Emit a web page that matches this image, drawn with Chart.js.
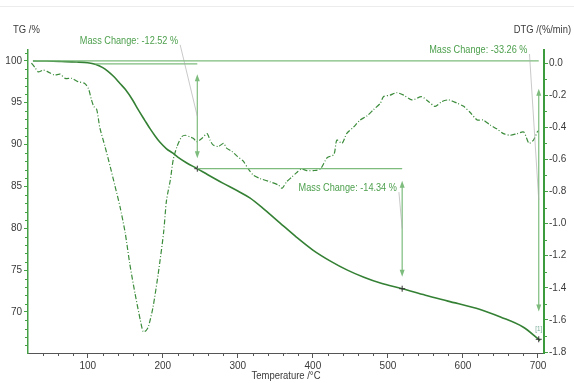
<!DOCTYPE html>
<html>
<head>
<meta charset="utf-8">
<script src="https://cdn.jsdelivr.net/npm/chart.js@4.4.1/dist/chart.umd.min.js"></script>
<style>
  html, body { margin: 0; padding: 0; background: #fff; }
  #wrap { position: relative; width: 574px; height: 383px; }
</style>
</head>
<body>
<div id="wrap"><canvas id="c" width="574" height="383"></canvas></div>
<script>
// TG curve: temperature (°C) and residual mass (%)
const tgTemp = [27, 45, 65, 85, 100, 110, 120, 127, 135, 143, 150, 160, 167, 176, 183, 190, 196, 205, 213, 220, 232, 246,
  260, 280, 300, 316, 336, 356, 378, 400, 424, 446, 468, 490, 519, 550, 580, 623, 650, 680, 701, 703];
const tgMass = [100.00, 99.98, 99.93, 99.87, 99.78, 99.60, 99.20, 98.75, 98.10, 97.30, 96.60, 95.30, 94.20, 92.90, 91.90, 91.00, 90.30, 89.50, 89.00, 88.50, 87.80, 87.12,
  86.40, 85.40, 84.45, 83.63, 82.20, 80.65, 78.95, 77.40, 76.05, 75.00, 74.15, 73.45, 72.78, 72.00, 71.30, 70.30, 69.40, 68.20, 66.74, 66.60];

// DTG curve: temperature (°C) and mass-loss rate (%/min)
const dtgTemp = [25, 30, 34, 41, 47, 56, 63, 70, 79, 87, 96, 101, 105, 108, 112, 116, 123, 130, 136, 143, 150, 156, 163, 170, 174, 178, 181, 187, 194, 201, 205, 210,
  214, 219, 225, 230, 236, 241, 245, 252, 259, 263, 267, 274, 281, 285, 292, 299, 307, 314, 321, 330, 343, 354, 359, 365, 372, 379, 385, 392, 401, 410,
  419, 428, 432, 439, 445, 454, 463, 472, 481, 490, 494, 503, 512, 521, 532, 545, 554, 563, 572, 581, 592, 601, 610, 619, 627, 636, 645, 654, 663, 672,
  681, 688, 694, 699, 701];
const dtgRate = [0.00, -0.03, -0.055, -0.044, -0.055, -0.075, -0.069, -0.096, -0.096, -0.116, -0.127, -0.16, -0.23, -0.27, -0.29, -0.40, -0.52, -0.646, -0.76, -0.895, -1.06, -1.25, -1.435, -1.60, -1.675, -1.665, -1.64, -1.52, -1.31, -1.06, -0.854, -0.73,
  -0.60, -0.52, -0.46, -0.45, -0.46, -0.47, -0.49, -0.47, -0.44, -0.48, -0.51, -0.52, -0.50, -0.53, -0.55, -0.58, -0.61, -0.66, -0.70, -0.72, -0.74, -0.76, -0.78, -0.74, -0.71, -0.68, -0.66, -0.67, -0.67, -0.66,
  -0.59, -0.57, -0.48, -0.50, -0.44, -0.40, -0.355, -0.33, -0.29, -0.25, -0.21, -0.20, -0.185, -0.20, -0.23, -0.21, -0.24, -0.27, -0.24, -0.23, -0.25, -0.27, -0.31, -0.355, -0.355, -0.386, -0.41, -0.44, -0.45, -0.44,
  -0.43, -0.50, -0.48, -0.43, -0.42];

// Axis tick values
const tempTicks = [100, 200, 300, 400, 500, 600, 700];
const massTicks = [70, 75, 80, 85, 90, 95, 100];
const rateTicks = [0.0, -0.2, -0.4, -0.6, -0.8, -1.0, -1.2, -1.4, -1.6, -1.8];

// Mass-change evaluations: start / end temperature, start level, stated change
const stepStartTemp = [110, 246, 27];
const stepEndTemp = [246, 519, 701];
const stepStartMass = [99.64, 87.12, 100.00];
const stepChange = [-12.52, -14.34, -33.26];

const FONT = '"Liberation Sans", Arial, sans-serif';
const TEXT = '#3a3a3a';
const ANNO = 'rgb(125,188,125)';
const ANNO_TEXT = 'rgb(78,160,78)';

// condensed text, in the style of the instrument software
function narrowText(ctx, text, x, y, align, size, color, squeeze) {
  ctx.save();
  ctx.translate(x, y);
  ctx.scale(squeeze, 1);
  ctx.font = size + 'px ' + FONT;
  ctx.fillStyle = color;
  ctx.textAlign = align;
  ctx.textBaseline = 'middle';
  ctx.fillText(text, 0, 0);
  ctx.restore();
}

function arrowHead(ctx, x, y, dir) {
  // dir = -1 points up, 1 points down
  ctx.beginPath();
  ctx.moveTo(x, y);
  ctx.lineTo(x - 2.5, y - dir * 7);
  ctx.lineTo(x + 2.5, y - dir * 7);
  ctx.closePath();
  ctx.fill();
}

const minorTicks = {
  id: 'minorTicks',
  afterDraw(chart) {
    const { ctx, scales: { x, y, y1 }, chartArea: a } = chart;
    ctx.save();
    ctx.lineWidth = 1;
    ctx.strokeStyle = '#555';
    ctx.beginPath();
    for (let t = 40; t <= 700; t += 20) {
      if (t % 100 === 0) continue;
      const px = Math.round(x.getPixelForValue(t)) + 0.5;
      ctx.moveTo(px, a.bottom); ctx.lineTo(px, a.bottom + 3);
    }
    ctx.stroke();
    ctx.strokeStyle = 'rgb(70,160,70)';
    ctx.beginPath();
    for (let m = 66; m <= 101; m++) {
      if (m % 5 === 0) continue;
      const py = Math.round(y.getPixelForValue(m)) + 0.5;
      ctx.moveTo(a.left, py); ctx.lineTo(a.left - 3, py);
    }
    for (let k = -18; k <= 0; k++) {
      if (k % 2 === 0) continue;
      const py = Math.round(y1.getPixelForValue(k / 10)) + 0.5;
      ctx.moveTo(a.right, py); ctx.lineTo(a.right + 3, py);
    }
    ctx.stroke();
    ctx.restore();
  }
};

const massChange = {
  id: 'massChange',
  afterDatasetsDraw(chart) {
    const { ctx, scales: { x, y }, chartArea: area } = chart;
    // label anchors (right end of text) in temperature / mass units
    const labelTemp = [220.5, 512, 686];
    const labelMass = [102.4, 84.8, 101.3];
    ctx.save();
    // faint frame line along the top of the figure
    ctx.strokeStyle = '#ececec';
    ctx.lineWidth = 1;
    ctx.beginPath(); ctx.moveTo(0, 6.5); ctx.lineTo(574, 6.5); ctx.stroke();

    for (let i = 0; i < stepChange.length; i++) {
      const x0 = x.getPixelForValue(stepStartTemp[i]);
      const x1 = x.getPixelForValue(stepEndTemp[i]);
      const yTop = y.getPixelForValue(stepStartMass[i]);
      const yBot = y.getPixelForValue(stepStartMass[i] + stepChange[i]);
      const span = yBot - yTop;
      // start level line
      ctx.strokeStyle = ANNO;
      ctx.lineWidth = 1.2;
      ctx.beginPath(); ctx.moveTo(x0, yTop); ctx.lineTo(x1, yTop); ctx.stroke();
      // double arrow
      const a0 = yTop + span * 0.1, a1 = yBot - span * 0.1;
      ctx.beginPath(); ctx.moveTo(x1, a0 + 3); ctx.lineTo(x1, a1 - 3); ctx.stroke();
      ctx.fillStyle = ANNO;
      arrowHead(ctx, x1, a0, -1);
      arrowHead(ctx, x1, a1, 1);
      // label
      const lx = x.getPixelForValue(labelTemp[i]);
      const ly = y.getPixelForValue(labelMass[i]);
      narrowText(ctx, 'Mass Change: ' + stepChange[i].toFixed(2) + ' %', lx, ly, 'right', 10.3, ANNO_TEXT, 0.89);
      // leader line to the arrow midpoint
      ctx.strokeStyle = 'rgba(170,170,170,0.8)';
      ctx.lineWidth = 0.8;
      ctx.beginPath(); ctx.moveTo(lx + 2, ly + 4); ctx.lineTo(x1, (yTop + yBot) / 2); ctx.stroke();
      // evaluation point marker on the TG curve
      ctx.strokeStyle = '#333';
      ctx.lineWidth = 1;
      ctx.beginPath();
      ctx.moveTo(x1 - 3, yBot); ctx.lineTo(x1 + 3, yBot);
      ctx.moveTo(x1, yBot - 3); ctx.lineTo(x1, yBot + 3);
      ctx.stroke();
    }
    // curve index tag
    narrowText(ctx, '[1]', x.getPixelForValue(701), y.getPixelForValue(68.0), 'center', 7, 'rgb(120,170,150)', 0.9);

    // axis captions
    narrowText(ctx, 'TG /%', 13, 30, 'left', 11, TEXT, 0.86);
    narrowText(ctx, 'DTG /(%/min)', 571, 30, 'right', 11, TEXT, 0.85);
    narrowText(ctx, 'Temperature /°C', (area.left + area.right) / 2, 376, 'center', 11, TEXT, 0.86);
    ctx.restore();
  }
};

new Chart(document.getElementById('c'), {
  type: 'scatter',
  data: {
    datasets: [
      {
        label: 'TG',
        data: tgTemp.map((t, i) => ({ x: t, y: tgMass[i] })),
        yAxisID: 'y',
        showLine: true,
        borderColor: 'rgb(52,128,52)',
        borderWidth: 1.6,
        pointRadius: 0,
        cubicInterpolationMode: 'monotone',
        fill: false
      },
      {
        label: 'DTG',
        data: dtgTemp.map((t, i) => ({ x: t, y: dtgRate[i] })),
        yAxisID: 'y1',
        showLine: true,
        borderColor: 'rgb(60,140,60)',
        borderWidth: 1.2,
        borderDash: [5, 2, 1, 2],
        pointRadius: 0,
        tension: 0.25,
        fill: false
      }
    ]
  },
  options: {
    responsive: false,
    animation: false,
    devicePixelRatio: 1,
    layout: { padding: { top: 50, left: 0, right: 0, bottom: 0 } },
    plugins: { legend: { display: false }, tooltip: { enabled: false } },
    scales: {
      x: {
        type: 'linear',
        min: 20.4,
        max: 708,
        afterBuildTicks: s => { s.ticks = tempTicks.map(v => ({ value: v })); },
        afterFit: s => { s.height = 30; },
        grid: { drawOnChartArea: false, tickLength: 5, color: '#555' },
        border: { color: '#555', width: 1 },
        ticks: { font: { family: FONT, size: 10 }, color: TEXT, padding: 2, maxRotation: 0 }
      },
      y: {
        position: 'left',
        min: 65.1,
        max: 101.3,
        afterBuildTicks: s => { s.ticks = massTicks.map(v => ({ value: v })); },
        afterFit: s => { s.width = 28; },
        grid: { drawOnChartArea: false, tickLength: 4, color: 'rgb(70,160,70)' },
        border: { color: 'rgb(70,160,70)', width: 1.5 },
        ticks: { font: { family: FONT, size: 10 }, color: TEXT, padding: 2 }
      },
      y1: {
        position: 'right',
        min: -1.806,
        max: 0.081,
        afterBuildTicks: s => { s.ticks = rateTicks.map(v => ({ value: v })); },
        afterFit: s => { s.width = 30; },
        grid: { drawOnChartArea: false, tickLength: 4, color: 'rgb(70,160,70)' },
        border: { color: 'rgb(60,155,60)', width: 2 },
        ticks: { font: { family: FONT, size: 10 }, color: TEXT, padding: 1, callback: v => Number(v).toFixed(1) }
      }
    }
  },
  plugins: [minorTicks, massChange]
});
</script>
</body>
</html>
